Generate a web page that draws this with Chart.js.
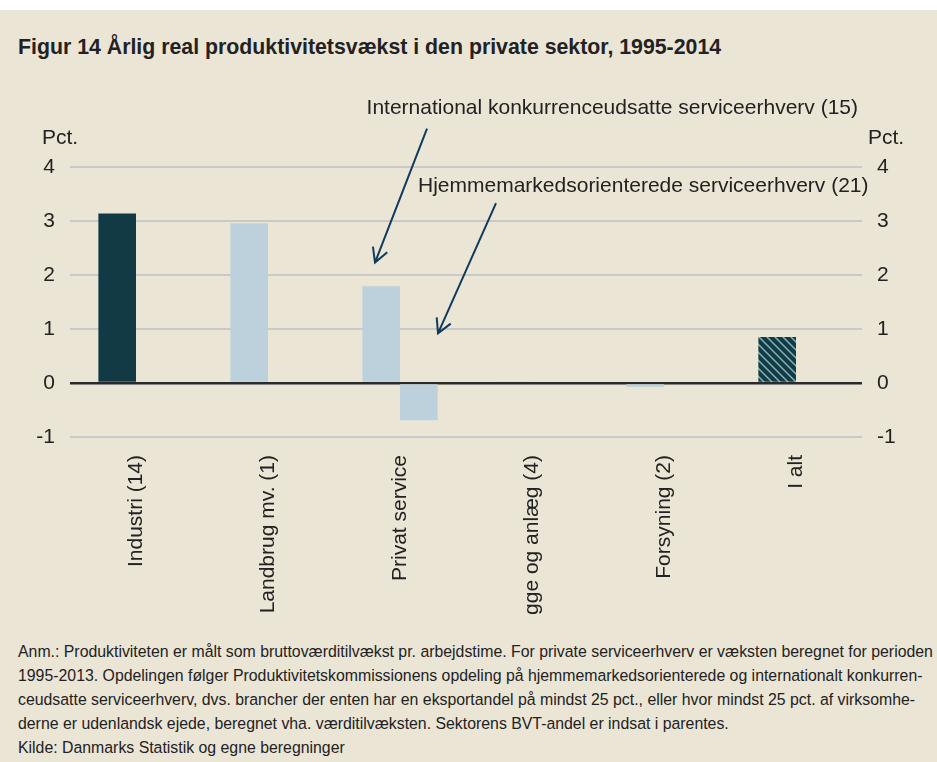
<!DOCTYPE html>
<html>
<head>
<meta charset="utf-8">
<script src="https://cdn.jsdelivr.net/npm/chart.js@4"></script>
<style>
  body { margin: 0; background: #fff; font-family: "Liberation Sans", Arial, sans-serif; color: #222; }
  #wrap { position: absolute; left: 0; top: 10px; width: 937px; height: 752px; background: #ebe5d6; overflow: hidden; }
  #title { position: absolute; left: 18px; top: 24px; font-size: 21.3px; line-height: 26px; font-weight: bold; white-space: nowrap; }
  #chart { position: absolute; left: 0; top: 0; }
  #note { position: absolute; left: 18px; top: 630px; font-size: 15.85px; line-height: 24px; white-space: nowrap; color: #222; }
</style>
</head>
<body>
<div id="wrap">
  <div id="title">Figur 14 Årlig real produktivitetsvækst i den private sektor, 1995-2014</div>
  <canvas id="chart" width="937" height="604"></canvas>
  <div id="note">
    Anm.: Produktiviteten er målt som bruttoværditilvækst pr. arbejdstime. For private serviceerhverv er væksten beregnet for perioden<br>
    1995-2013. Opdelingen følger Produktivitetskommissionens opdeling på hjemmemarkedsorienterede og internationalt konkurren-<br>
    ceudsatte serviceerhverv, dvs. brancher der enten har en eksportandel på mindst 25 pct., eller hvor mindst 25 pct. af virksomhe-<br>
    derne er udenlandsk ejede, beregnet vha. værditilvæksten. Sektorens BVT-andel er indsat i parentes.<br>
    Kilde: Danmarks Statistik og egne beregninger
  </div>
</div>
<script>
// Data
const categories = ["Industri (14)", "Landbrug mv. (1)", "Privat service", "Bygge og anlæg (4)", "Forsyning (2)", "I alt"];
// første søjle i hver gruppe (for privat service: internationalt konkurrenceudsatte)
const sectorValues = [3.14, 2.96, 1.79, 0.02, -0.07, 0.85];
// anden søjle: hjemmemarkedsorienterede serviceerhverv
const homeMarketValues = [null, null, -0.69, null, null, null];
const yTicks = [-1, 0, 1, 2, 3, 4];

const dark = "#123a44";
const light = "#bcd1db";
const font = "Liberation Sans";

// skraveret søjle til "I alt"
function hatch() {
  const c = document.createElement("canvas");
  c.width = 8; c.height = 8;
  const g = c.getContext("2d");
  g.fillStyle = "#103c46";
  g.fillRect(0, 0, 8, 8);
  g.strokeStyle = "#8fb3bd";
  g.lineWidth = 1.4;
  g.beginPath();
  g.moveTo(0, 0); g.lineTo(8, 8);
  g.moveTo(-4, 4); g.lineTo(4, 12);
  g.moveTo(4, -4); g.lineTo(12, 4);
  g.stroke();
  return g.createPattern(c, "repeat");
}

const sectorColors = [dark, light, light, light, light, hatch()];

// tekster og pile
const annotations = {
  id: "annotations",
  afterDraw(chart) {
    const { ctx, chartArea } = chart;
    const x = chart.scales.x, y = chart.scales.y;
    const cx = x.getPixelForValue(2);
    ctx.save();
    ctx.font = "21px " + font;
    ctx.fillStyle = "#222";
    ctx.textBaseline = "middle";

    // Pct. over akserne
    ctx.textAlign = "left";
    ctx.fillText("Pct.", 42, y.getPixelForValue(4) - 29);
    ctx.fillText("Pct.", chartArea.right + 6, y.getPixelForValue(4) - 29);

    ctx.textAlign = "right";
    ctx.fillText("International konkurrenceudsatte serviceerhverv (15)", chartArea.right - 4, y.getPixelForValue(5.09));
    ctx.textAlign = "left";
    ctx.fillText("Hjemmemarkedsorienterede serviceerhverv (21)", cx + 18, y.getPixelForValue(3.64));

    function arrow(x1, y1, x2, y2) {
      const a = Math.atan2(y2 - y1, x2 - x1);
      const h = 16;
      ctx.beginPath();
      ctx.moveTo(x1, y1);
      ctx.lineTo(x2, y2);
      ctx.moveTo(x2 - h * Math.cos(a - 0.5), y2 - h * Math.sin(a - 0.5));
      ctx.lineTo(x2, y2);
      ctx.lineTo(x2 - h * Math.cos(a + 0.5), y2 - h * Math.sin(a + 0.5));
      ctx.stroke();
    }
    ctx.strokeStyle = "#0f3b5c";
    ctx.lineWidth = 2;
    arrow(cx + 27, y.getPixelForValue(4.71), cx - 25, y.getPixelForValue(2.23));
    arrow(cx + 96, y.getPixelForValue(3.33), cx + 38, y.getPixelForValue(0.92));
    ctx.restore();
  }
};

new Chart(document.getElementById("chart"), {
  type: "bar",
  data: {
    labels: categories,
    datasets: [{
      label: "Sektorer",
      data: sectorValues,
      backgroundColor: sectorColors
    }, {
      label: "Hjemmemarkedsorienterede serviceerhverv",
      data: homeMarketValues,
      backgroundColor: light
    }]
  },
  options: {
    responsive: false,
    animation: false,
    devicePixelRatio: 1,
    categoryPercentage: 0.57,
    barPercentage: 1,
    layout: { padding: { top: 157, left: 0, right: 0, bottom: 0 } },
    plugins: { legend: { display: false }, tooltip: { enabled: false } },
    scales: {
      x: {
        grid: { display: false, drawTicks: false },
        border: { display: false },
        ticks: {
          autoSkip: false, maxRotation: 90, minRotation: 90, padding: 18,
          color: "#222", font: { family: font, size: 21 }
        },
        afterFit: s => { s.height = 177; }
      },
      y: {
        position: "left",
        min: -1, max: 4,
        afterBuildTicks: s => { s.ticks = yTicks.map(v => ({ value: v })); },
        grid: {
          drawTicks: false,
          color: c => c.tick.value === 0 ? "#2a2a2a" : "#c9c9c9",
          lineWidth: c => c.tick.value === 0 ? 2.5 : 2
        },
        border: { display: false },
        ticks: { padding: 15, color: "#222", font: { family: font, size: 21 } },
        afterFit: s => { s.width = 70; }
      },
      y2: {
        position: "right",
        min: -1, max: 4,
        afterBuildTicks: s => { s.ticks = yTicks.map(v => ({ value: v })); },
        grid: { display: false, drawTicks: false },
        border: { display: false },
        ticks: { padding: 15, color: "#222", font: { family: font, size: 21 } },
        afterFit: s => { s.width = 75; }
      }
    }
  },
  plugins: [annotations]
});
</script>
</body>
</html>
